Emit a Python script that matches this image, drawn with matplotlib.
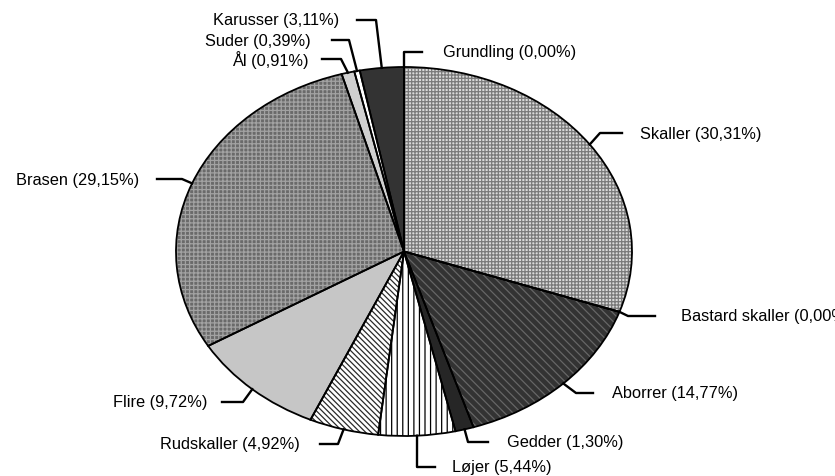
import numpy as np
import matplotlib
matplotlib.use('Agg')
import matplotlib.pyplot as plt

# fish species, clockwise from 12 o'clock
arter = ['Grundling', 'Skaller', 'Bastard skaller', 'Aborrer', 'Gedder', 'Løjer',
         'Rudskaller', 'Flire', 'Brasen', 'Ål', 'Suder', 'Karusser']
andel = [0.00, 30.31, 0.00, 14.77, 1.30, 5.44, 4.92, 9.72, 29.15, 0.91, 0.39, 3.11]

plt.rcParams['font.family'] = ['Liberation Sans', 'DejaVu Sans']
plt.rcParams['hatch.linewidth'] = 0.9

W, H = 835, 477
cx, cy, rx, ry = 404, 252.5, 228, 184.5   # pie centre / radii in pixels


def d(x, y):
    # pixel -> data coords (pie is unit circle, stretched by the axes)
    return (x - cx) / rx, (cy - y) / ry


fig = plt.figure(figsize=(W / 100, H / 100), dpi=100)
ax = fig.add_axes([0, 0, 1, 1])

face = ['white', '#dadada', 'white', '#333333', '#262626', 'white',
        'white', '#c6c6c6', '#6a6a6a', '#d0d0d0', 'white', '#333333']
hcol = ['black', '#7a7a7a', 'black', '#666666', '#262626', 'black',
        '#2a2a2a', '#c6c6c6', '#a2a2a2', '#d0d0d0', 'white', '#333333']
hatch = [None, '+++++', None, '\\\\\\\\', None, '|||',
         '\\\\\\\\\\\\', None, '++++', None, None, None]

wedges, _ = ax.pie(andel, startangle=90, counterclock=False, radius=1,
                   wedgeprops=dict(linewidth=0))
for w, fc, hc, ht in zip(wedges, face, hcol, hatch):
    w.set_facecolor(fc)
    w.set_edgecolor(hc)
    if ht:
        w.set_hatch(ht)

# outlines on top
ax.pie(andel, startangle=90, counterclock=False, radius=1,
       wedgeprops=dict(facecolor='none', edgecolor='black', linewidth=1.3))

# leader layout: elbow, line end, text x, text y, alignment (pixels)
layout = {
    'Grundling':       ((404, 53), (422, 53), 443, 53, 'left'),
    'Skaller':         ((600, 134), (622, 134), 640, 134, 'left'),
    'Bastard skaller': ((628, 317), (655, 317), 681, 317, 'left'),
    'Aborrer':         ((576, 394), (593, 394), 612, 394, 'left'),
    'Gedder':          ((468, 443), (488, 443), 507, 443, 'left'),
    'Løjer':           ((417, 468), (435, 468), 452, 468, 'left'),
    'Rudskaller':      ((338, 445), (320, 445), 300, 445, 'right'),
    'Flire':           ((243, 403), (222, 403), 207, 403, 'right'),
    'Brasen':          ((182, 180), (157, 180), 139, 180, 'right'),
    'Ål':              ((341, 60), (322, 60), 309, 60, 'right'),
    'Suder':           ((349, 41), (332, 41), 311, 41, 'right'),
    'Karusser':        ((376, 21), (357, 21), 339, 21, 'right'),
}

for w, navn, v in zip(wedges, arter, andel):
    mid = np.deg2rad((w.theta1 + w.theta2) / 2)
    ax0, ay0 = np.cos(mid), np.sin(mid)
    (ex, ey), (lx, ly), tx, ty, ha = layout[navn]
    p1, p2 = d(ex, ey), d(lx, ly)
    ax.plot([ax0, p1[0], p2[0]], [ay0, p1[1], p2[1]], color='black', lw=1.7,
            clip_on=False)
    tpos = d(tx, ty)
    txt = f'{navn} ({v:.2f}%)'.replace('.', ',')
    ax.text(tpos[0], tpos[1], txt, ha=ha, va='center', fontsize=11.8)

ax.set_aspect('auto')
ax.set_xlim(-cx / rx, (W - cx) / rx)
ax.set_ylim((cy - H) / ry, cy / ry)
ax.axis('off')

plt.savefig('out.png', dpi=100)
